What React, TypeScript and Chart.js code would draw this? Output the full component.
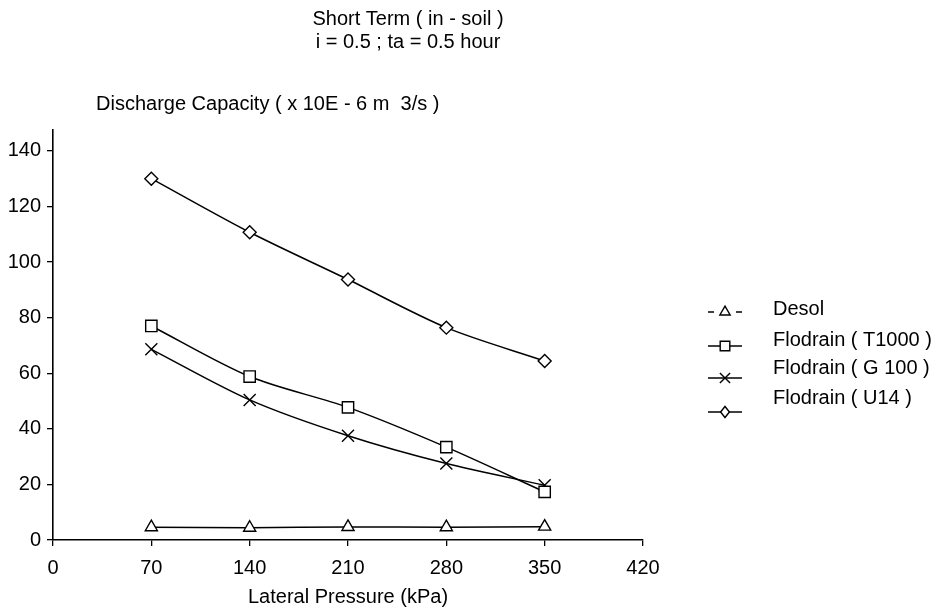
import { useEffect, useRef } from 'react';
import { Chart, registerables } from 'chart.js';

Chart.register(...registerables);

const FONT = '"Liberation Sans", Arial, Helvetica, sans-serif';

// ---- data ----
const pressures = [70, 140, 210, 280, 350];
const xTickValues = [0, 70, 140, 210, 280, 350, 420];
const yTickValues = [0, 20, 40, 60, 80, 100, 120, 140];
const seriesNames = ['Desol', 'Flodrain ( T1000 )', 'Flodrain ( G 100 )', 'Flodrain ( U14 )'];
const desol = [4.6, 4.4, 4.7, 4.6, 4.8];
const t1000 = [77, 58.8, 47.7, 33.4, 17.3];
const g100 = [68.6, 50.4, 37.5, 27.5, 19.7];
const u14 = [130, 110.7, 93.7, 76.4, 64.4];
const titleLines = ['Short Term ( in - soil )', 'i = 0.5 ; ta = 0.5 hour'];
const yAxisLabel = 'Discharge Capacity ( x 10E - 6 m  3/s )';
const xAxisLabel = 'Lateral Pressure (kPa)';

const seriesValues = [desol, t1000, g100, u14];
const pointStyles = ['triangle', 'rect', 'crossRot', 'rectRot'];
const pointRadii = [7, 8, 8.5, 6.5];

function drawMarker(ctx: CanvasRenderingContext2D, style: string, x: number, y: number, r: number) {
  ctx.beginPath();
  if (style === 'triangle') {
    ctx.moveTo(x, y - r);
    ctx.lineTo(x + r * 0.866, y + r * 0.5);
    ctx.lineTo(x - r * 0.866, y + r * 0.5);
    ctx.closePath();
    ctx.fill();
    ctx.stroke();
  } else if (style === 'rect') {
    const s = r * Math.SQRT1_2;
    ctx.rect(x - s, y - s, 2 * s, 2 * s);
    ctx.fill();
    ctx.stroke();
  } else if (style === 'crossRot') {
    const s = r * Math.SQRT1_2;
    ctx.moveTo(x - s, y - s);
    ctx.lineTo(x + s, y + s);
    ctx.moveTo(x - s, y + s);
    ctx.lineTo(x + s, y - s);
    ctx.stroke();
  } else {
    ctx.moveTo(x - r * 0.8, y);
    ctx.lineTo(x, y - r);
    ctx.lineTo(x + r * 0.8, y);
    ctx.lineTo(x, y + r);
    ctx.closePath();
    ctx.fill();
    ctx.stroke();
  }
}

const textPlugin = {
  id: 'textPlugin',
  afterDraw(chart: any) {
    const ctx: CanvasRenderingContext2D = chart.ctx;
    ctx.save();
    ctx.fillStyle = '#000';
    ctx.strokeStyle = '#000';
    ctx.font = `20px ${FONT}`;
    ctx.textBaseline = 'middle';
    // title
    ctx.textAlign = 'center';
    titleLines.forEach((t, i) => ctx.fillText(t, 408, 19 + i * 23));
    // y axis label (horizontal, above axis)
    ctx.textAlign = 'left';
    ctx.fillText(yAxisLabel, 96, 104);
    // legend
    const textY = [309, 340, 368, 398];
    const markY = [312, 346, 378, 412];
    const cx = 725;
    seriesNames.forEach((name, i) => {
      ctx.fillStyle = '#000';
      ctx.textAlign = 'left';
      ctx.fillText(name, 773, textY[i]);
      const y = markY[i];
      ctx.lineWidth = 1.4;
      ctx.beginPath();
      if (i === 0) {
        ctx.moveTo(708, y);
        ctx.lineTo(714, y);
        ctx.moveTo(736, y);
        ctx.lineTo(742, y);
      } else {
        ctx.moveTo(708, y);
        ctx.lineTo(742, y);
      }
      ctx.stroke();
      ctx.fillStyle = '#fff';
      drawMarker(ctx, pointStyles[i], cx, y, pointRadii[i] * 0.85);
    });
    ctx.restore();
  },
};

export default function App() {
  const ref = useRef<HTMLCanvasElement>(null);
  useEffect(() => {
    if (!ref.current) return;
    Chart.defaults.color = '#000';
    Chart.defaults.font.family = FONT;
    const chart = new Chart(ref.current, {
      type: 'line',
      data: {
        datasets: seriesNames.map((name, i) => ({
          label: name,
          data: pressures.map((p, j) => ({ x: p, y: seriesValues[i][j] })),
          borderColor: '#000',
          borderWidth: 1.5,
          backgroundColor: '#fff',
          pointBackgroundColor: '#fff',
          pointBorderColor: '#000',
          pointBorderWidth: 1.4,
          pointStyle: pointStyles[i] as any,
          pointRadius: pointRadii[i],
          tension: 0.3,
          fill: false,
        })),
      },
      plugins: [textPlugin],
      options: {
        animation: false,
        responsive: false,
        devicePixelRatio: 1,
        layout: { padding: { top: 130, right: 291, left: 0, bottom: 0 } },
        plugins: {
          legend: { display: false },
          tooltip: { enabled: false },
          title: { display: false },
        },
        scales: {
          x: {
            type: 'linear',
            min: 0,
            max: 420,
            afterBuildTicks: (s: any) => {
              s.ticks = xTickValues.map((v) => ({ value: v }));
            },
            afterFit: (s: any) => {
              s.height = 69;
            },
            ticks: { font: { size: 20 }, padding: 10, color: '#000', maxRotation: 0 },
            grid: { display: true, drawOnChartArea: false, drawTicks: true, tickLength: 6, color: '#000', lineWidth: 1.3 },
            border: { display: true, color: '#000', width: 1.6 },
            title: { display: true, text: xAxisLabel, font: { size: 20 }, color: '#000', padding: { top: 0, bottom: 0 } },
          },
          y: {
            type: 'linear',
            min: 0,
            max: 147.5,
            afterBuildTicks: (s: any) => {
              s.ticks = yTickValues.map((v) => ({ value: v }));
            },
            afterFit: (s: any) => {
              s.width = 53;
            },
            ticks: { font: { size: 20 }, padding: 6, color: '#000' },
            grid: { display: true, drawOnChartArea: false, drawTicks: true, tickLength: 6, color: '#000', lineWidth: 1.3 },
            border: { display: true, color: '#000', width: 1.6 },
          },
        },
      },
    });
    return () => chart.destroy();
  }, []);
  return (
    <div style={{ position: 'fixed', left: 0, top: 0, width: 934, height: 609, background: '#fff' }}>
      <canvas ref={ref} width={934} height={609} />
    </div>
  );
}
